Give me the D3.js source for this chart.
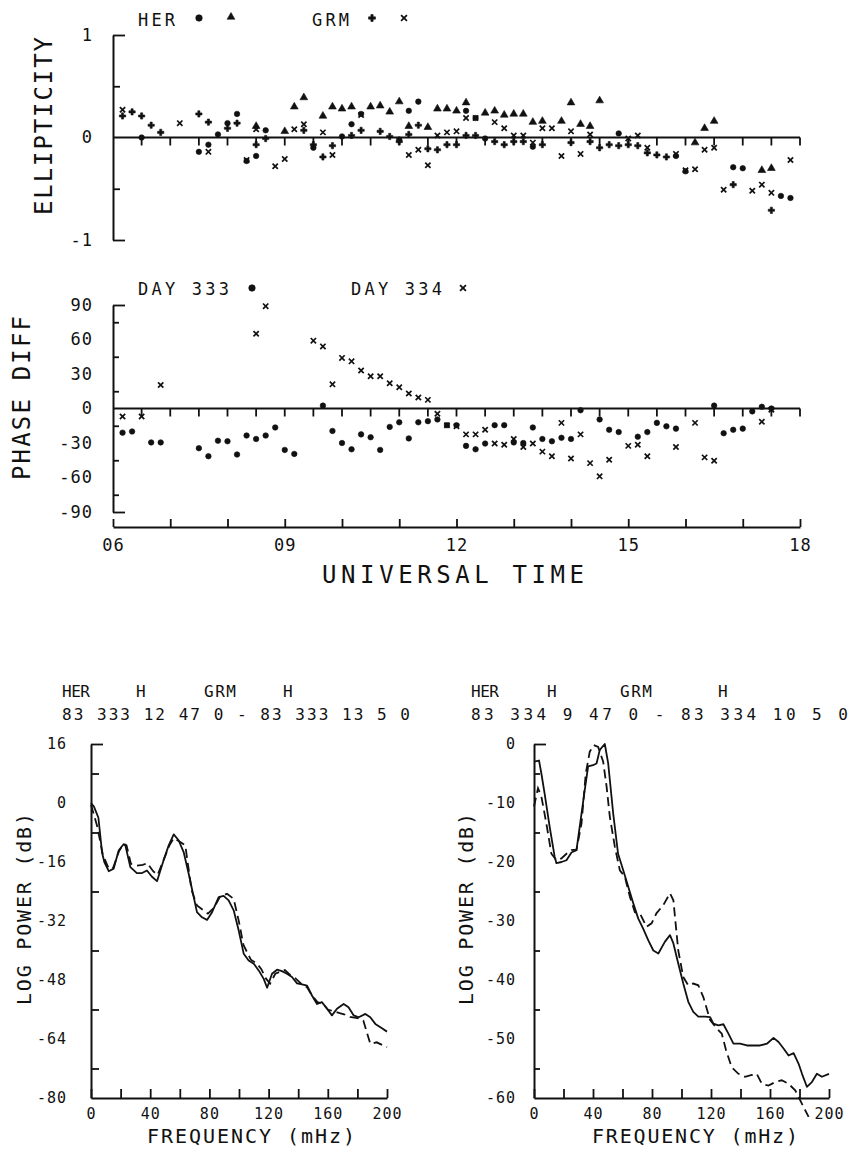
<html>
<script src="https://d3js.org/d3.v7.min.js"></script>
<body>
<style>
    body { margin: 0; background: #fff; }
    svg text { font-family: "DejaVu Sans Mono", monospace; fill: #111; }
</style>
<svg width=852 height=1150></svg>
<script>

// ---- data ----
// ellipticity, [UT, value]
var herEll333 = [["06:30",0.00],["07:30",-0.14],["07:40",-0.07],["07:50",0.03],["08:00",0.14],["08:10",0.23],
    ["08:20",-0.23],["08:30",-0.18],["08:40",0.07],["09:30",-0.10],["10:00",0.01],["10:10",0.13],["10:20",0.23],
    ["11:00",-0.02],["11:10",0.26],["11:20",0.35],["12:10",0.26],["12:20",0.19],["12:30",-0.01],["13:20",-0.09],
    ["14:50",0.04],["15:50",-0.18],["16:00",-0.33],["16:50",-0.29],["17:00",-0.30],["17:40",-0.57],["17:50",-0.59]];
var herEll334 = [["08:30",0.11],["09:00",0.06],["09:10",0.30],["09:20",0.39],["09:40",0.21],["09:50",0.30],
    ["10:00",0.28],["10:10",0.30],["10:30",0.30],["10:40",0.31],["10:50",0.25],["11:00",0.35],["11:10",0.11],
    ["11:30",0.10],["11:40",0.28],["11:50",0.28],["12:00",0.26],["12:10",0.34],["12:30",0.24],["12:40",0.26],
    ["12:50",0.22],["13:00",0.23],["13:10",0.23],["13:20",0.15],["13:30",0.16],["13:50",0.16],["14:00",0.34],
    ["14:10",0.13],["14:20",0.11],["14:30",0.36],["16:10",-0.05],["16:20",0.09],["16:30",0.16],["17:20",-0.32],
    ["17:30",-0.30]];
var grmEll333 = [["06:10",0.21],["06:20",0.25],["06:30",0.21],["06:40",0.12],["06:50",0.05],["07:30",0.23],
    ["07:40",0.15],["08:00",0.09],["08:10",0.14],["08:30",-0.07],["08:40",-0.01],["09:20",0.07],["09:30",-0.07],
    ["09:40",-0.19],["09:50",-0.08],["10:10",0.02],["10:20",0.07],["10:40",0.06],["10:50",0.01],["11:00",-0.04],
    ["11:10",0.03],["11:20",0.12],["11:30",-0.11],["11:40",-0.12],["11:50",-0.07],["12:00",-0.07],["12:10",0.02],
    ["12:20",0.02],["12:40",-0.04],["12:50",-0.07],["13:00",-0.04],["13:10",-0.04],["13:30",-0.07],["14:00",-0.05],
    ["14:20",-0.04],["14:30",-0.10],["14:40",-0.07],["14:50",-0.08],["15:00",-0.07],["15:10",-0.08],["15:20",-0.15],
    ["15:30",-0.17],["15:40",-0.19],["16:50",-0.46],["17:30",-0.71]];
var grmEll334 = [["06:10",0.27],["07:10",0.14],["07:40",-0.14],["08:20",-0.22],["08:30",0.08],["08:50",-0.28],
    ["09:00",-0.21],["09:10",0.08],["09:20",0.13],["09:40",0.05],["09:50",-0.17],["10:20",0.22],["11:10",-0.17],
    ["11:20",-0.12],["11:30",-0.27],["11:40",0.02],["11:50",0.05],["12:00",0.06],["12:10",0.19],["12:20",0.19],
    ["12:40",0.15],["12:50",0.09],["13:00",0.02],["13:10",0.02],["13:20",-0.05],["13:30",0.09],["13:40",0.09],
    ["13:50",-0.18],["14:00",0.06],["14:10",-0.16],["14:20",0.03],["15:00",-0.01],["15:10",0.02],["15:20",-0.10],
    ["15:50",-0.16],["16:00",-0.32],["16:10",-0.31],["16:20",-0.12],["16:30",-0.10],["16:40",-0.51],["17:10",-0.52],
    ["17:20",-0.46],["17:30",-0.54],["17:50",-0.22]];

// phase difference (deg), [UT, value]
var phase333 = [["06:10",-21],["06:20",-20],["06:40",-29.5],["06:50",-29.5],["07:30",-34.5],["07:40",-41.5],
    ["07:50",-28],["08:00",-28.5],["08:10",-40],["08:20",-23.5],["08:30",-26.5],["08:40",-23.5],["08:50",-16.5],
    ["09:00",-36],["09:10",-39.5],["09:40",2.5],["09:50",-19.5],["10:00",-30],["10:10",-35.5],["10:20",-22.5],
    ["10:30",-25],["10:40",-36],["10:50",-16],["11:00",-12],["11:10",-26],["11:20",-12],["11:30",-11],["11:40",-9.5],
    ["11:50",-14.5],["12:00",-14.5],["12:10",-32.5],["12:20",-35.5],["12:30",-30.5],["12:40",-14.5],["12:50",-14.5],
    ["13:00",-29.5],["13:10",-30],["13:20",-16.5],["13:30",-26.5],["13:40",-28.5],["13:50",-25.5],["14:00",-26.5],
    ["14:10",-1.5],["14:30",-9.5],["14:40",-18.5],["14:50",-20.5],["15:10",-24.5],["15:20",-20.5],["15:30",-12.5],
    ["15:40",-15.5],["15:50",-17.5],["16:30",2.5],["16:40",-21.5],["16:50",-18.5],["17:00",-17.5],["17:10",-2.5],
    ["17:20",1.5],["17:30",0]];
var phase334 = [["06:10",-7],["06:30",-7],["06:50",20.5],["08:30",65],["08:40",89],["09:30",59],["09:40",54],
    ["09:50",21],["10:00",44],["10:10",41],["10:20",33],["10:30",28],["10:40",28],["10:50",22],["11:00",18.5],
    ["11:10",13],["11:20",9.5],["11:30",7.5],["11:40",-4.5],["11:50",-14.5],["12:00",-15.5],["12:10",-22.5],
    ["12:20",-22.5],["12:30",-18.5],["12:40",-30.5],["12:50",-31.5],["13:00",-26.5],["13:10",-33.5],["13:20",-30.5],
    ["13:30",-37.5],["13:40",-41.5],["13:50",-12.5],["14:00",-43.5],["14:10",-22.5],["14:20",-47.5],["14:30",-59],
    ["14:40",-44.5],["15:00",-32.5],["15:10",-31.5],["15:20",-41.5],["15:50",-33.5],["16:10",-12.5],["16:20",-42.5],
    ["16:30",-45.5],["17:20",-11.5],["17:30",-1]];

// spectra, [frequency mHz, log power dB]
var specL_solid = [[0,0],[2,-1],[5,-4],[7.5,-13.5],[9,-16],[12,-18.5],[15.3,-17.8],[18.7,-12.9],[22,-11.2],
    [23.2,-11.5],[26.6,-17.4],[31,-19],[34.5,-19],[37.8,-18.3],[41.2,-20],[44.6,-21.2],[49,-15.6],[52.5,-11.5],
    [55.9,-8.5],[59.2,-10.1],[62.6,-13.3],[66,-19.2],[69.4,-25.5],[71.6,-29.6],[75,-31],[78.4,-31.7],[81.8,-29.6],
    [86.3,-25.5],[89.6,-25.2],[93,-26.4],[96.4,-29.1],[99.8,-34.6],[103.2,-40.9],[106.5,-42.7],[110,-43.6],
    [113.3,-45.4],[116.7,-47.7],[119,-50.1],[122.3,-46.3],[125.7,-45.2],[129,-45.6],[132.4,-46.3],[135.8,-47.2],
    [139.2,-48.9],[142.6,-49.2],[146,-49.5],[149.3,-52.2],[152.7,-54.5],[156,-54],[159.5,-55.8],[162.8,-57.6],
    [166.2,-55.8],[170.7,-54.5],[174,-55.4],[177.5,-57.6],[180.9,-58.1],[185.4,-57.2],[188.7,-58.1],[192.1,-59.9],
    [196.6,-61.1],[200,-62]];
var specL_dash = [[0,-0.5],[4,-6],[8,-14],[12,-17.8],[15,-17.5],[19,-13],[22,-11],[24,-11.5],[27,-16.5],[31,-17],
    [35,-16.8],[38,-16.3],[42,-18.5],[45,-19.5],[49,-15.5],[53,-11.5],[56,-9.5],[60,-10.5],[63.7,-11.5],[68,-23.7],
    [71.6,-27.8],[76,-29.1],[79,-30],[83,-28.5],[87,-25.5],[91.9,-24.6],[96.4,-26],[99.8,-31.9],[103,-38.5],
    [108,-42.5],[112,-43.5],[115,-45],[118,-47.5],[121,-49],[124.5,-46.3],[128,-45.7],[131,-45.3],[135,-46.8],
    [138,-47.5],[142,-49],[146,-50],[149,-52],[153,-54],[157,-54.5],[160,-56],[164,-56.5],[168,-57],[171,-57.3],
    [175,-58],[179,-58.3],[182,-58.5],[184,-59],[188.7,-65.3],[193,-64.9],[200,-66.2]];
var specR_solid = [[0,-3],[3.4,-2.8],[5,-5],[7.2,-8.4],[10.6,-14],[14,-19.1],[15.2,-20.2],[18.6,-20],[22,-19.7],
    [25.4,-18.4],[28.8,-18],[31,-14],[34.4,-7.8],[36.7,-3.8],[40,-3.6],[42.4,-3.3],[44.6,-1],[48,0],[50.3,-3.3],
    [53.7,-11.8],[57,-18.6],[60.5,-21.4],[63.9,-24.2],[67.3,-27],[70.7,-29.6],[74,-31.3],[77.5,-33.3],[80.9,-35],
    [84.3,-35.5],[88.8,-33.5],[92.2,-32.4],[94.5,-33.8],[97.8,-37.2],[101.2,-40.6],[104.6,-43.7],[108,-45.4],
    [111.4,-46.2],[116,-46.2],[119.4,-46.3],[121.6,-47.4],[125,-47.7],[128.4,-47.5],[131.8,-49.1],[135.2,-50.8],
    [139.7,-50.8],[144.3,-51.1],[148.8,-51.1],[153.3,-51.1],[157.9,-50.8],[162.4,-49.8],[165.8,-50.5],[169.2,-51.6],
    [172.6,-52.8],[176,-52.4],[179.4,-54.2],[181.7,-55.9],[185,-58.1],[188.4,-57.3],[191.8,-55.9],[195.2,-56.4],
    [200,-55.9]];
var specR_dash = [[0,-10.6],[2.7,-7.5],[5,-8.9],[8.4,-13.5],[11.8,-18.6],[15.2,-19.7],[18.6,-19.4],[22,-18.6],
    [25.4,-18],[28.8,-17.9],[32.2,-13.5],[35.1,-5],[37.8,-1.3],[40.5,-0.2],[43.5,-0.5],[46.9,-3],[49.2,-7.2],
    [51.4,-12.3],[54.8,-17.4],[58.2,-21.4],[61.6,-22.5],[65,-25.9],[68.4,-28.5],[71.8,-28.7],[76.3,-31],[79.7,-30.4],
    [83,-28.7],[87.7,-27.3],[92.2,-25.3],[94.5,-26.5],[97.8,-35],[101.2,-39.5],[104.6,-40.9],[108,-40.6],
    [111.4,-40.9],[114.8,-42.9],[119.4,-46.8],[123.9,-48.2],[127.3,-49.1],[130.2,-51.9],[134,-54.8],[138.6,-55.9],
    [143.1,-56.4],[147.7,-56.1],[151,-55.9],[154.5,-57.6],[159,-57.9],[163.5,-57.3],[168,-57],[172.6,-57.6],
    [177.1,-58.7],[180.5,-60.4],[183.9,-62.1],[186.2,-63.2]];

// tick labels
var hourLabels = [6, 9, 12, 15, 18];
var ellTicks = [1, 0.5, 0, -0.5, -1];
var phaseTicks = [90, 75, 60, 45, 30, 15, 0, -15, -30, -45, -60, -75, -90];
var powerTicksL = [16, 8, 0, -8, -16, -24, -32, -40, -48, -56, -64, -72, -80];
var powerTicksR = [0, -5, -10, -15, -20, -25, -30, -35, -40, -45, -50, -55, -60];
var freqTicks = [0, 20, 40, 60, 80, 100, 120, 140, 160, 180, 200];
var headerL = ["83 333 12 47 0 - 83 333 13 5 0"];
var headerR = ["83 334 9 47 0 - 83 334 10 5 0"];

// ---- scales ----
var svg = d3.select("svg");
var ink = "#111";

var x = d3.scaleLinear().domain([6, 18]).range([113, 800]);
var yE = d3.scaleLinear().domain([-1, 1]).range([240, 35]);
var yP = d3.scaleLinear().domain([-90, 90]).range([512, 305]);

var xf1 = d3.scaleLinear().domain([0, 200]).range([91, 387]);
var yL = d3.scaleLinear().domain([-80, 16]).range([1098, 744]);
var xf2 = d3.scaleLinear().domain([0, 200]).range([534, 829]);
var yR = d3.scaleLinear().domain([-60, 0]).range([1098, 744]);

function ut(s) { var p = s.split(":"); return +p[0] + (+p[1]) / 60; }
function fmt(d) { return d < 0 ? "-" + Math.abs(d) : String(d); }

// left axis, ticks pointing inward, label only some of them
function leftAxis(left, scale, values, labelOf, tickLen, pad, size) {
    var g = svg.append("g")
        .attr("transform", "translate(" + left + ",0)")
        .call(d3.axisLeft(scale).tickValues(values).tickSizeInner(0).tickSizeOuter(0)
            .tickPadding(pad).tickFormat(function(d) { return labelOf(d) ? fmt(d) : ""; }));
    g.select(".domain").attr("stroke", ink).attr("stroke-width", 2);
    g.selectAll(".tick line").attr("x2", tickLen).attr("stroke", ink).attr("stroke-width", 1.8);
    g.selectAll(".tick text").attr("font-size", size).style("letter-spacing", "1px");
    return g;
}

function bottomAxis(top, scale, values, labelOf, label, tickLen, pad, size) {
    var g = svg.append("g")
        .attr("transform", "translate(0," + top + ")")
        .call(d3.axisBottom(scale).tickValues(values).tickSizeInner(0).tickSizeOuter(0)
            .tickPadding(pad).tickFormat(function(d) { return labelOf(d) ? label(d) : ""; }));
    g.select(".domain").attr("stroke", ink).attr("stroke-width", 2);
    g.selectAll(".tick line").attr("y2", -tickLen).attr("stroke", ink).attr("stroke-width", 1.8);
    g.selectAll(".tick text").attr("font-size", size).style("letter-spacing", "1px");
    return g;
}

// symbols
var sym = {
    dot:   { type: d3.symbolCircle, size: 24, fill: true },
    tri:   { type: d3.symbolTriangle, size: 26, fill: true },
    plus:  { type: d3.symbolCross, size: 22, fill: true },
    cross: { type: d3.symbolX, size: 20, fill: false }
};

function points(data, yScale, s) {
    svg.append("g").selectAll("path")
        .data(data)
        .join("path")
        .attr("transform", function(d) { return "translate(" + x(ut(d[0])) + "," + yScale(d[1]) + ")"; })
        .attr("d", d3.symbol().type(s.type).size(s.size))
        .attr("fill", s.fill ? ink : "none")
        .attr("stroke", ink)
        .attr("stroke-width", s.fill ? 0.6 : 1.7);
}

function legendSymbol(cx, cy, s, k) {
    svg.append("path")
        .attr("transform", "translate(" + cx + "," + cy + ")")
        .attr("d", d3.symbol().type(s.type).size(s.size * k))
        .attr("fill", s.fill ? ink : "none")
        .attr("stroke", ink)
        .attr("stroke-width", s.fill ? 0.6 : 1.8);
}

function label(txt, px, py, size, opts) {
    opts = opts || {};
    var t = svg.append("text")
        .attr("x", px).attr("y", py)
        .attr("font-size", size)
        .attr("text-anchor", opts.anchor || "start")
        .attr("dominant-baseline", "central")
        .text(txt);
    if (opts.len) t.attr("textLength", opts.len).attr("lengthAdjust", "spacing");
    if (opts.rotate) t.attr("transform", "rotate(-90," + px + "," + py + ")");
    return t;
}

// half-hour ticks hanging from a zero line
var halfHours = d3.range(6.5, 18.01, 0.5);
function zeroLine(yScale) {
    svg.append("line")
        .attr("x1", x(6)).attr("x2", x(18))
        .attr("y1", yScale(0)).attr("y2", yScale(0))
        .attr("stroke", ink).attr("stroke-width", 2);
    svg.append("g").selectAll("line")
        .data(halfHours)
        .join("line")
        .attr("x1", function(d) { return x(d); }).attr("x2", function(d) { return x(d); })
        .attr("y1", yScale(0)).attr("y2", yScale(0) + 8)
        .attr("stroke", ink).attr("stroke-width", 1.8);
}

// ---- ellipticity panel ----
leftAxis(113, yE, ellTicks, function(d) { return d % 1 === 0; },
    function(d) { return Math.abs(d) === 1 ? 12 : (d === 0 ? 0 : 7); }, 20, 17);
zeroLine(yE);
points(herEll334, yE, sym.tri);
points(grmEll333, yE, sym.plus);
points(grmEll334, yE, sym.cross);
points(herEll333, yE, sym.dot);

label("ELLIPTICITY", 44, 126, 24, { anchor: "middle", rotate: true, len: 178 });
label("HER", 138, 20, 17, { len: 37 });
legendSymbol(199, 18, sym.dot, 1.4);
legendSymbol(231, 17, sym.tri, 1.0);
label("GRM", 312, 20, 17, { len: 37 });
legendSymbol(372, 18, sym.plus, 1.2);
legendSymbol(404, 18, sym.cross, 1.2);

// ---- phase difference panel ----
leftAxis(113, yP, phaseTicks, function(d) { return d % 30 === 0; },
    function(d) { return Math.abs(d) === 90 ? 12 : (d % 30 === 0 ? 0 : 6); }, 20, 17);
zeroLine(yP);
bottomAxis(527, x, d3.range(6, 18.01, 1), function(d) { return hourLabels.indexOf(d) >= 0; },
    function(d) { return d3.format("02d")(d); }, 8, 12, 17);
points(phase334, yP, sym.cross);
points(phase333, yP, sym.dot);

label("PHASE DIFF", 22, 398, 24, { anchor: "middle", rotate: true, len: 164 });
label("UNIVERSAL TIME", 453, 575, 24, { anchor: "middle", len: 262 });
label("DAY 333", 138, 289, 17, { len: 91 });
legendSymbol(252, 288, sym.dot, 1.4);
label("DAY 334", 351, 289, 17, { len: 91 });
legendSymbol(463, 288, sym.cross, 1.2);

// ---- spectra ----
function spectrum(xs, ys, solid, dashed) {
    var line = d3.line()
        .x(function(d) { return xs(d[0]); })
        .y(function(d) { return ys(d[1]); });
    svg.append("path").datum(solid)
        .attr("d", line).attr("fill", "none")
        .attr("stroke", ink).attr("stroke-width", 1.8).attr("stroke-linejoin", "round");
    svg.append("path").datum(dashed)
        .attr("d", line).attr("fill", "none")
        .attr("stroke", ink).attr("stroke-width", 1.8)
        .attr("stroke-dasharray", "9,5");
}

// left spectrum
leftAxis(91, yL, powerTicksL, function(d) { return d % 16 === 0; },
    function(d) { return d === 16 ? 12 : (d % 16 === 0 ? 0 : 8); }, 24, 15);
bottomAxis(1098, xf1, freqTicks, function(d) { return d % 40 === 0; }, fmt,
    9, 10, 15);
spectrum(xf1, yL, specL_solid, specL_dash);
label("LOG POWER (dB)", 24, 909, 20, { anchor: "middle", rotate: true, len: 192 });
label("FREQUENCY (mHz)", 251, 1136, 20, { anchor: "middle", len: 208 });
label("HER", 62, 691, 16, { len: 28 });
label("H", 136, 691, 16);
label("GRM", 204, 691, 16, { len: 32 });
label("H", 283, 691, 16);
label(headerL[0], 62, 714, 16, { len: 348 });

// right spectrum
leftAxis(534, yR, powerTicksR, function(d) { return d % 10 === 0; },
    function(d) { return d === 0 ? 12 : (d % 10 === 0 ? 0 : 6); }, 18, 15);
bottomAxis(1098, xf2, freqTicks, function(d) { return d % 40 === 0; }, fmt,
    9, 10, 15);
spectrum(xf2, yR, specR_solid, specR_dash);
label("LOG POWER (dB)", 466, 909, 20, { anchor: "middle", rotate: true, len: 192 });
label("FREQUENCY (mHz)", 695, 1136, 20, { anchor: "middle", len: 206 });
label("HER", 471, 691, 16, { len: 28 });
label("H", 547, 691, 16);
label("GRM", 620, 691, 16, { len: 32 });
label("H", 718, 691, 16);
label(headerR[0], 471, 714, 16, { len: 377 });

</script>
</body>
</html>
